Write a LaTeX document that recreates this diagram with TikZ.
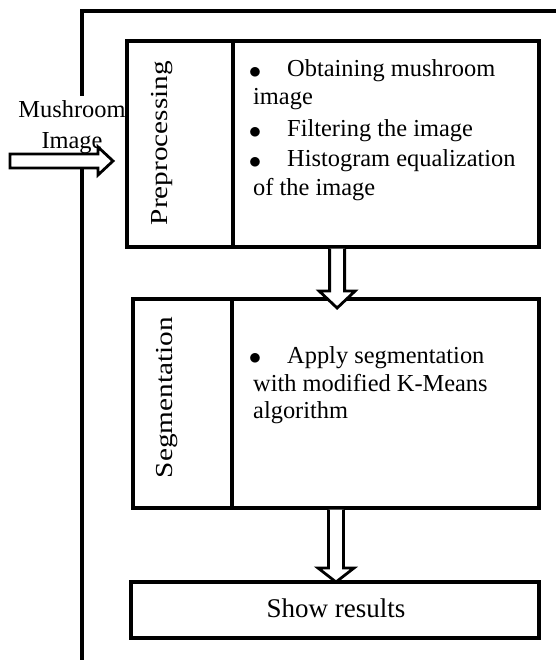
\documentclass[tikz,border=0pt]{standalone}
\usepackage{fontspec}
\setmainfont{Liberation Serif}
\usetikzlibrary{calc}
\newcommand{\bul}{\raisebox{-1.3pt}{\fontsize{31}{31}\selectfont$\bullet$}}
\begin{document}
\begin{tikzpicture}[x=1pt,y=-1pt,
  frame/.style={line width=3.8pt},
  box/.style={draw, line width=3.2pt, inner sep=0pt, outer sep=0pt, anchor=north west},
  hollow/.style={draw, line width=2.8pt, fill=white, line join=miter, miter limit=10},
  txt/.style={font=\fontsize{24.4}{30}\selectfont, anchor=base west, inner sep=0pt},
  side/.style={font=\fontsize{24.4}{30}\selectfont, rotate=90, inner sep=0pt, anchor=center}
]
\useasboundingbox (0,0) rectangle (555,660);
% outer frame
\draw[frame] (82,662) -- (82,11) -- (557,11);
% input label
\node[fill=white, align=center, font=\fontsize{24.4}{30.5}\selectfont, inner xsep=0.5pt, inner ysep=5pt] (inlabel) at (72,127) {Mushroom\\Image};
% boxes
\node[box, minimum width=106pt, minimum height=206pt] (prelab) at (127,41) {};
\node[box, minimum width=306pt, minimum height=206pt] (prebody) at (233,41) {};
\node[box, minimum width=99pt, minimum height=209pt] (seglab) at (133,299) {};
\node[box, minimum width=307pt, minimum height=209pt] (segbody) at (232,299) {};
\node[box, minimum width=408pt, minimum height=56pt] (show) at (131,582) {};
% side labels
\node[side] (pretxt) at (162,143) {\scalebox{1.2}[1]{Preprocessing}};
\node[side] (segtxt) at (167,397.5) {\scalebox{1.2}[1]{Segmentation}};
% body texts
\node[txt] (b1) at (248.7,77) {\bul};
\node[txt] (t1) at (287,77) {Obtaining mushroom};
\node[txt] (t1b) at (253,105) {image};
\node[txt] (b2) at (248.7,137) {\bul};
\node[txt] (t2) at (287,137) {Filtering the image};
\node[txt] (b3) at (248.7,167) {\bul};
\node[txt] (t3) at (287,167) {Histogram equalization};
\node[txt] (t3b) at (253,196) {of the image};
\node[txt] (b4) at (248.7,363) {\bul};
\node[txt] (t4) at (287,363) {Apply segmentation};
\node[txt] (t4b) at (253,391) {with modified K-Means};
\node[txt] (t4c) at (253,418) {algorithm};
\node[font=\fontsize{27}{30}\selectfont, inner sep=0pt, anchor=base] (showtxt) at (336,617) {Show results};
% arrows
\coordinate (inL) at (10,161);
\coordinate (inR) at (113,161);
\draw[hollow] let \p1=(inL), \p2=(inR) in
  (\x1,\y1-7pt) -- (\x2-15pt,\y1-7pt) -- (\x2-15pt,\y1-14pt) -- (\x2,\y2)
  -- (\x2-15pt,\y1+14pt) -- (\x2-15pt,\y1+7pt) -- (\x1,\y1+7pt) -- cycle;
\coordinate (a1s) at ($(prelab.south west)!0.51!(prebody.south east)$);
\coordinate (a1e) at ($(seglab.north west)+(204,9)$);
\draw[hollow] let \p1=(a1s), \p2=(a1e) in
  (\x1-7.5pt,\y1-1.6pt) -- (\x1-7.5pt,\y2+17pt) -- (\x1-18pt,\y2+17pt) -- (\x1,\y2)
  -- (\x1+18pt,\y2+17pt) -- (\x1+7.5pt,\y2+17pt) -- (\x1+7.5pt,\y1-1.6pt);
\coordinate (a2s) at ($(seglab.south west)+(203,0)$);
\coordinate (a2e) at ($(show.north west)+(205,0)$);
\draw[hollow] let \p1=(a2s), \p2=(a2e) in
  (\x1-7.5pt,\y1-1.6pt) -- (\x1-7.5pt,\y2+14pt) -- (\x1-18pt,\y2+14pt) -- (\x1,\y2)
  -- (\x1+18pt,\y2+14pt) -- (\x1+7.5pt,\y2+14pt) -- (\x1+7.5pt,\y1-1.6pt);
\end{tikzpicture}
\end{document}
